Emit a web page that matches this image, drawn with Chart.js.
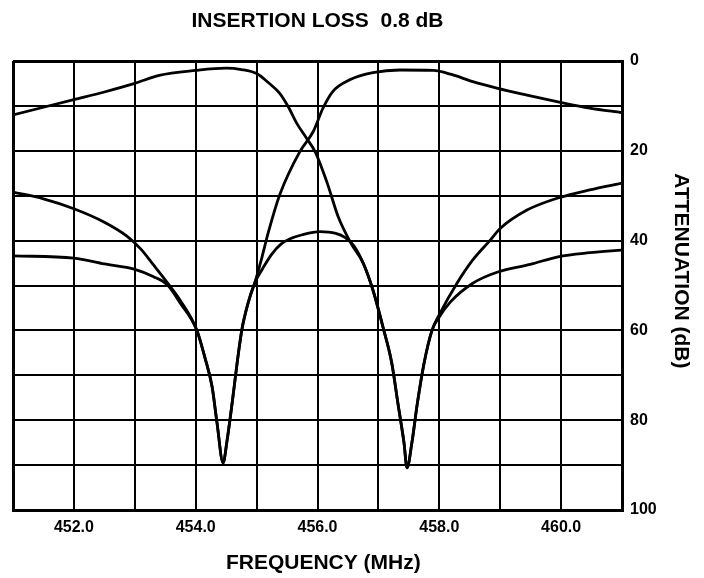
<!DOCTYPE html>
<html>
<head>
    <title>Insertion Loss</title>
    <style>
        body { margin: 0; background: #fff; }
        #wrap { width: 704px; height: 578px; }
    </style>
</head>
<body>
    <div id="wrap"><canvas id="lossChart" width="704" height="578"></canvas></div>

    <script src="https://cdn.jsdelivr.net/npm/chart.js"></script>
    <script>
        // left passband, notch near 457.5
        var lowFreq = [451, 451.5, 452, 452.5, 453, 453.4, 454, 454.5, 454.75, 455, 455.2, 455.38, 455.52, 455.66, 455.82, 455.96,
            456.16, 456.34, 456.55, 456.75, 456.91, 457.08, 457.22, 457.32, 457.42, 457.47, 457.55, 457.64, 457.75, 457.88,
            458, 458.29, 458.55, 458.83, 459, 459.44, 459.95, 460.47, 461];
        var lowLoss = [12.0, 10.3, 8.6, 6.9, 5.0, 3.2, 2.1, 1.6, 1.9, 2.8, 4.9, 7.2, 10.2, 13.9, 17.2, 20.2,
            27.2, 34.7, 40.6, 45, 51, 59.5, 67.3, 76.2, 85, 90.6, 85, 76.2, 67.3, 60,
            56.5, 49.5, 44.3, 40, 37.3, 33.2, 30.5, 28.7, 27.2];

        // right passband, notch near 454.5
        var highFreq = [451, 451.5, 452, 452.5, 452.87, 453.1, 453.3, 453.53, 453.75, 454.02, 454.15, 454.27, 454.35, 454.45,
            454.51, 454.6, 454.68, 454.76, 454.86, 454.97, 455.09, 455.19, 455.38, 455.71, 455.93, 456.09, 456.25, 456.53,
            456.91, 457.35, 457.9, 458.2, 458.55, 458.96, 459.44, 459.95, 460.47, 461];
        var highLoss = [29.2, 30.7, 32.9, 35.9, 39.0, 41.9, 45.3, 49.3, 53.4, 60, 66, 72.6, 80.6, 89.5,
            85, 76, 67.3, 59.7, 53.9, 49.4, 43.6, 38.3, 29.8, 20.2, 15.7, 10.5, 6.8, 4.2,
            2.6, 2.0, 2.1, 3.0, 4.6, 6.1, 7.6, 9.1, 10.5, 11.5];

        // middle response, both notches
        var midFreq = [451, 452, 452.5, 453, 453.3, 453.53, 453.75, 454.02, 454.15, 454.27, 454.35, 454.45,
            454.51, 454.6, 454.68, 454.76, 454.86, 454.97, 455.1, 455.25, 455.4, 455.55, 455.75, 456.04, 456.3, 456.45,
            456.6, 456.75, 456.91, 457.08, 457.22, 457.32, 457.42, 457.47, 457.55, 457.64, 457.75, 457.88, 458, 458.18, 458.55,
            458.96, 459.49, 459.95, 460.47, 461];
        var midLoss = [43.4, 43.9, 45.2, 46.4, 48, 49.8, 54.0, 60, 66, 72.6, 80.6, 89.5,
            85, 76, 67.3, 59.7, 53.9, 49.4, 46.2, 43.0, 40.8, 39.6, 38.7, 38.0, 38.4, 39.3,
            41.2, 45, 51, 59.5, 67.3, 76.2, 85, 90.6, 85, 76.2, 67.3, 60, 57, 53.7, 49.5,
            47, 45.3, 43.6, 42.7, 42.1];

        var freqMin = 451, freqMax = 461;
        var dbMin = 0, dbMax = 100;

        function toPoints(xs, ys) {
            return xs.map(function(x, i) { return { x: x, y: ys[i] }; });
        }

        function curve(xs, ys) {
            return {
                data: toPoints(xs, ys),
                showLine: true,
                borderColor: '#000',
                borderWidth: 2.8,
                pointRadius: 0,
                cubicInterpolationMode: 'monotone',
                fill: false
            };
        }

        var fontFamily = '"Liberation Sans", Arial, Helvetica, sans-serif';

        var ctx = document.getElementById('lossChart').getContext('2d');
        new Chart(ctx, {
            type: 'scatter',
            data: {
                datasets: [curve(lowFreq, lowLoss), curve(highFreq, highLoss), curve(midFreq, midLoss)]
            },
            options: {
                responsive: false,
                animation: false,
                layout: { padding: { left: 13, top: 0, right: 0, bottom: 0 } },
                plugins: { legend: { display: false }, tooltip: { enabled: false } },
                scales: {
                    x: {
                        type: 'linear',
                        position: 'bottom',
                        min: freqMin,
                        max: freqMax,
                        afterFit: function(s) { s.height = 68; },
                        ticks: {
                            stepSize: 1,
                            autoSkip: false,
                            maxRotation: 0,
                            padding: 8,
                            color: '#000',
                            font: { family: fontFamily, size: 16, weight: 'bold' },
                            callback: function(v) { return v % 2 === 0 ? v.toFixed(1) : ''; }
                        },
                        grid: {
                            color: '#000',
                            drawTicks: false,
                            lineWidth: function(c) { return (c.tick && (c.tick.value === freqMin || c.tick.value === freqMax)) ? 3 : 2; }
                        },
                        border: { color: '#000', width: 3 },
                        title: {
                            display: true,
                            text: '  FREQUENCY (MHz)',
                            color: '#000',
                            font: { family: fontFamily, size: 21, weight: 'bold' },
                            padding: { top: 0, bottom: 2 }
                        }
                    },
                    x2: {
                        type: 'linear',
                        position: 'top',
                        min: freqMin,
                        max: freqMax,
                        afterFit: function(s) { s.height = 61; },
                        ticks: { display: false },
                        grid: { display: false },
                        border: { display: false },
                        title: {
                            display: true,
                            text: 'INSERTION LOSS  0.8 dB',
                            color: '#000',
                            font: { family: fontFamily, size: 21, weight: 'bold' },
                            padding: { top: 9, bottom: 0 }
                        }
                    },
                    y: {
                        type: 'linear',
                        position: 'right',
                        reverse: true,
                        min: dbMin,
                        max: dbMax,
                        afterFit: function(s) { s.width = 82; },
                        ticks: {
                            stepSize: 10,
                            autoSkip: false,
                            padding: 8,
                            color: '#000',
                            font: { family: fontFamily, size: 16, weight: 'bold' },
                            callback: function(v) { return v % 20 === 0 ? v : ''; }
                        },
                        grid: {
                            color: '#000',
                            drawTicks: false,
                            lineWidth: function(c) { return (c.tick && (c.tick.value === dbMin || c.tick.value === dbMax)) ? 3 : 2; }
                        },
                        border: { color: '#000', width: 3 },
                        title: {
                            display: true,
                            text: 'ATTENUATION (dB)     ',
                            color: '#000',
                            font: { family: fontFamily, size: 21, weight: 'bold' },
                            padding: { top: 11, bottom: 0 }
                        }
                    }
                }
            }
        });
    </script>
</body>
</html>
